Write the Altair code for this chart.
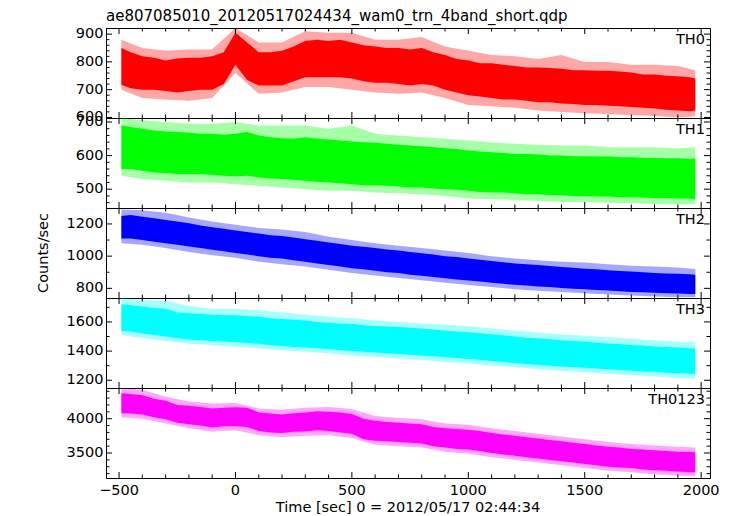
import altair as alt
import pandas as pd

TITLE = "ae807085010_20120517024434_wam0_trn_4band_short.qdp"
X_TITLE = "Time [sec] 0 = 2012/05/17 02:44:34"
Y_TITLE = "Counts/sec"
FONT = "DejaVu Sans"

# dense core of each light curve, 50 s steps
TIME = [-490, -450, -400, -350, -300, -250, -200, -150, -100, -50,
        0, 50, 100, 150, 200, 250, 300, 350, 400, 450,
        500, 550, 600, 650, 700, 750, 800, 850, 900, 950,
        1000, 1050, 1100, 1150, 1200, 1250, 1300, 1350, 1400, 1450,
        1500, 1550, 1600, 1650, 1700, 1750, 1800, 1850, 1900, 1950, 1975]

TH0_HI = [850, 835, 820, 815, 805, 812, 815, 815, 820, 835,
          905, 870, 835, 835, 840, 855, 875, 880, 875, 880,
          870, 860, 855, 850, 850, 845, 850, 835, 825, 810,
          805, 795, 795, 790, 785, 780, 780, 778, 775, 770,
          770, 768, 768, 765, 762, 755, 755, 750, 748, 745, 740]
TH0_LO = [718, 705, 700, 700, 695, 690, 695, 700, 700, 720,
          790, 735, 715, 715, 715, 730, 745, 745, 745, 745,
          740, 730, 725, 725, 720, 715, 720, 715, 700, 690,
          680, 675, 670, 665, 665, 660, 655, 655, 650, 648,
          645, 645, 642, 640, 638, 635, 632, 628, 625, 622, 625]

TH1_HI = [690, 685, 680, 675, 672, 670, 668, 665, 665, 662,
          665, 670, 660, 655, 652, 650, 655, 650, 648, 645,
          642, 640, 638, 635, 632, 630, 628, 625, 622, 620,
          615, 612, 610, 608, 605, 605, 603, 600, 600, 598,
          598, 597, 597, 595, 595, 594, 593, 592, 592, 590, 592]
TH1_LO = [560, 560, 555, 550, 548, 545, 545, 545, 542, 540,
          538, 540, 535, 532, 530, 528, 525, 522, 520, 518,
          515, 512, 512, 510, 508, 505, 505, 502, 500, 498,
          495, 492, 490, 490, 488, 485, 485, 483, 482, 480,
          480, 478, 478, 476, 476, 475, 474, 474, 472, 472, 470]

TH2_HI = [1250, 1255, 1245, 1235, 1225, 1215, 1205, 1190, 1180, 1170,
          1160, 1150, 1140, 1130, 1125, 1115, 1105, 1095, 1085, 1075,
          1065, 1058, 1050, 1042, 1035, 1025, 1018, 1010, 1000, 995,
          985, 978, 970, 962, 955, 950, 945, 938, 932, 928,
          922, 918, 912, 908, 904, 900, 896, 892, 890, 888, 885]
TH2_LO = [1110, 1110, 1100, 1090, 1080, 1070, 1060, 1050, 1040, 1030,
          1020, 1010, 1000, 990, 985, 975, 965, 955, 945, 935,
          925, 918, 910, 900, 895, 885, 878, 870, 862, 855,
          848, 842, 835, 828, 822, 818, 812, 808, 802, 798,
          795, 790, 786, 782, 778, 775, 772, 770, 768, 765, 765]

TH3_HI = [1720, 1715, 1705, 1695, 1690, 1665, 1660, 1655, 1650, 1645,
          1645, 1640, 1635, 1625, 1620, 1615, 1610, 1600, 1595, 1590,
          1585, 1578, 1572, 1568, 1565, 1560, 1555, 1548, 1540, 1535,
          1530, 1522, 1515, 1508, 1500, 1492, 1488, 1482, 1475, 1470,
          1465, 1458, 1452, 1448, 1442, 1438, 1432, 1428, 1425, 1420, 1418]
TH3_LO = [1540, 1535, 1520, 1510, 1500, 1490, 1480, 1475, 1470, 1465,
          1460, 1455, 1450, 1440, 1435, 1428, 1425, 1420, 1415, 1405,
          1400, 1395, 1390, 1385, 1380, 1375, 1370, 1365, 1358, 1352,
          1345, 1340, 1332, 1325, 1318, 1312, 1305, 1300, 1295, 1290,
          1285, 1280, 1275, 1270, 1265, 1260, 1258, 1252, 1250, 1245, 1245]

TH0123_HI = [4370, 4360, 4340, 4290, 4260, 4200, 4190, 4170, 4150, 4160,
             4165, 4160, 4090, 4075, 4060, 4080, 4090, 4110, 4100, 4090,
             4070, 4000, 3970, 3950, 3940, 3930, 3920, 3880, 3860, 3850,
             3840, 3820, 3790, 3770, 3750, 3730, 3710, 3690, 3670, 3650,
             3630, 3610, 3590, 3580, 3560, 3550, 3540, 3530, 3520, 3515, 3510]
TH0123_LO = [4080, 4075, 4060, 4020, 3990, 3940, 3920, 3900, 3870, 3890,
             3890, 3880, 3820, 3800, 3790, 3810, 3815, 3830, 3820, 3800,
             3780, 3700, 3680, 3670, 3660, 3650, 3640, 3600, 3580, 3560,
             3550, 3530, 3500, 3480, 3460, 3440, 3420, 3400, 3380, 3360,
             3340, 3320, 3300, 3290, 3280, 3260, 3250, 3240, 3230, 3220, 3215]

# reach of the sparse spikes, 100 s steps
T_EXT = [-490, -400, -300, -200, -100, 0, 100, 200, 300, 400, 500, 600, 700,
         800, 900, 1000, 1100, 1200, 1300, 1400, 1500, 1600, 1700, 1800, 1900, 1975]

TH0_EHI = [880, 850, 840, 845, 845, 922, 870, 870, 910, 905, 905, 880, 880,
           890, 855, 840, 825, 820, 810, 825, 800, 800, 790, 790, 785, 770]
TH0_ELO = [700, 670, 665, 660, 670, 760, 685, 690, 710, 710, 700, 690, 685,
           690, 670, 645, 640, 635, 625, 620, 615, 612, 608, 605, 600, 603]
TH1_EHI = [712, 705, 700, 695, 695, 700, 690, 690, 690, 680, 690, 665, 660,
           655, 650, 645, 640, 635, 632, 630, 630, 625, 625, 625, 622, 625]
TH1_ELO = [540, 530, 525, 520, 520, 515, 510, 505, 500, 495, 495, 490, 488,
           485, 480, 472, 470, 468, 465, 462, 462, 460, 458, 456, 455, 455]
TH2_EHI = [1290, 1285, 1270, 1240, 1215, 1195, 1175, 1165, 1150, 1120, 1100, 1080, 1065,
           1050, 1035, 1020, 1000, 985, 975, 965, 960, 950, 940, 935, 930, 920]
TH2_ELO = [1080, 1070, 1050, 1025, 1005, 990, 965, 950, 935, 915, 895, 880, 865,
           850, 835, 820, 808, 795, 785, 778, 770, 762, 755, 750, 745, 745]
TH3_EHI = [1764, 1750, 1745, 1710, 1690, 1690, 1680, 1665, 1650, 1635, 1625, 1610, 1600,
           1590, 1580, 1570, 1555, 1540, 1525, 1515, 1505, 1495, 1485, 1475, 1465, 1460]
TH3_ELO = [1510, 1490, 1470, 1450, 1440, 1430, 1420, 1405, 1395, 1385, 1370, 1360, 1350,
           1340, 1325, 1315, 1300, 1290, 1275, 1265, 1255, 1245, 1235, 1225, 1215, 1210]
TH0123_EHI = [4447, 4420, 4320, 4250, 4220, 4230, 4150, 4130, 4160, 4170, 4140, 4040, 4010,
              3990, 3930, 3910, 3860, 3820, 3780, 3740, 3700, 3660, 3630, 3610, 3590, 3580]
TH0123_ELO = [4020, 4000, 3930, 3860, 3810, 3830, 3760, 3730, 3750, 3760, 3720, 3620, 3600,
              3580, 3520, 3490, 3440, 3400, 3360, 3320, 3280, 3240, 3220, 3190, 3170, 3160]

X_DOMAIN = [-556, 2038]
X_MAJOR = [-500, 0, 500, 1000, 1500, 2000]
X_MINOR = [-400, -300, -200, -100, 100, 200, 300, 400, 600, 700, 800, 900,
           1100, 1200, 1300, 1400, 1600, 1700, 1800, 1900]

PANELS = [
    dict(name="TH0", color="#ff0000", hi=TH0_HI, lo=TH0_LO, ehi=TH0_EHI, elo=TH0_ELO,
         domain=[598, 922], major=[600, 700, 800, 900],
         minor=[620, 640, 660, 680, 720, 740, 760, 780, 820, 840, 860, 880, 920]),
    dict(name="TH1", color="#00ff00", hi=TH1_HI, lo=TH1_LO, ehi=TH1_EHI, elo=TH1_ELO,
         domain=[444, 712], major=[500, 600, 700],
         minor=[460, 480, 520, 540, 560, 580, 620, 640, 660, 680]),
    dict(name="TH2", color="#0000ff", hi=TH2_HI, lo=TH2_LO, ehi=TH2_EHI, elo=TH2_ELO,
         domain=[740, 1299], major=[800, 1000, 1200],
         minor=[900, 1100]),
    dict(name="TH3", color="#00ffff", hi=TH3_HI, lo=TH3_LO, ehi=TH3_EHI, elo=TH3_ELO,
         domain=[1147, 1764], major=[1200, 1400, 1600],
         minor=[1300, 1500, 1700]),
    dict(name="TH0123", color="#ff00ff", hi=TH0123_HI, lo=TH0123_LO, ehi=TH0123_EHI,
         elo=TH0123_ELO, domain=[3136, 4447], major=[3500, 4000],
         minor=[3200, 3300, 3400, 3600, 3700, 3800, 3900, 4100, 4200, 4300, 4400]),
]

W = 604
H = 90
MAJ = 6
MIN = 3.5
FS = 14.5


def txt(**kw):
    base = dict(font=FONT, fontSize=FS, color="black")
    base.update(kw)
    return base


def panel(i, p):
    xs = alt.Scale(domain=X_DOMAIN, nice=False, zero=False)
    ys = alt.Scale(domain=p["domain"], nice=False, zero=False)
    is_bottom = i == len(PANELS) - 1
    dfe = pd.DataFrame({"t": T_EXT, "hi": p["ehi"], "lo": p["elo"]})
    fringe = alt.Chart(dfe).mark_area(color=p["color"], opacity=0.35, clip=True).encode(
        x=alt.X("t:Q", scale=xs, axis=None),
        y=alt.Y("hi:Q", scale=ys, axis=None),
        y2="lo:Q",
    )
    df = pd.DataFrame({"t": TIME, "hi": p["hi"], "lo": p["lo"]})
    core = alt.Chart(df).mark_area(color=p["color"], opacity=1, clip=True).encode(
        x=alt.X("t:Q", scale=xs, axis=None),
        y=alt.Y("hi:Q", scale=ys, axis=None),
        y2="lo:Q",
    )
    layers = [fringe, core]
    # inward ticks on all four sides
    for vals, ln in ((p["major"], MAJ), (p["minor"], MIN)):
        d = pd.DataFrame({"v": vals})
        layers.append(alt.Chart(d).mark_rule(color="black", strokeWidth=1).encode(
            x=alt.value(0), x2=alt.value(ln), y=alt.Y("v:Q", scale=ys, axis=None)))
        layers.append(alt.Chart(d).mark_rule(color="black", strokeWidth=1).encode(
            x=alt.value(W), x2=alt.value(W - ln), y=alt.Y("v:Q", scale=ys, axis=None)))
    for vals, ln in ((X_MAJOR, MAJ), (X_MINOR, MIN)):
        d = pd.DataFrame({"t": vals})
        layers.append(alt.Chart(d).mark_rule(color="black", strokeWidth=1).encode(
            y=alt.value(0), y2=alt.value(ln), x=alt.X("t:Q", scale=xs, axis=None)))
        layers.append(alt.Chart(d).mark_rule(color="black", strokeWidth=1).encode(
            y=alt.value(H), y2=alt.value(H - ln), x=alt.X("t:Q", scale=xs, axis=None)))
    # y tick labels
    layers.append(alt.Chart(pd.DataFrame({"v": p["major"]})).mark_text(
        **txt(align="right", baseline="middle")).encode(
        x=alt.value(-2.5), y=alt.Y("v:Q", scale=ys, axis=None),
        text=alt.Text("v:Q", format="d")))
    # panel label
    layers.append(alt.Chart(pd.DataFrame({"label": [p["name"]]})).mark_text(
        **txt(align="right", baseline="top")).encode(
        x=alt.value(W - 5), y=alt.value(5), text="label:N"))
    if i == 2:
        layers.append(alt.Chart(pd.DataFrame({"label": [Y_TITLE]})).mark_text(
            **txt(align="center", baseline="middle", angle=270)).encode(
            x=alt.value(-62), y=alt.value(H / 2), text="label:N"))
    if is_bottom:
        layers.append(alt.Chart(pd.DataFrame({"t": X_MAJOR})).mark_text(
            **txt(align="center", baseline="top")).encode(
            x=alt.X("t:Q", scale=xs, axis=None), y=alt.value(H + 6),
            text=alt.Text("t:Q", format="d")))
        layers.append(alt.Chart(pd.DataFrame({"label": [X_TITLE]})).mark_text(
            **txt(align="center", baseline="top")).encode(
            x=alt.value(W / 2), y=alt.value(H + 23), text="label:N"))
    ch = alt.layer(*layers)
    if i == 0:
        ch = ch.properties(width=W, height=H, title=alt.TitleParams(
            text=TITLE, anchor="start", frame="group", fontSize=15, font=FONT,
            fontWeight="normal", color="black", offset=2))
    else:
        ch = ch.properties(width=W, height=H)
    return ch


chart = alt.vconcat(*[panel(i, p) for i, p in enumerate(PANELS)], spacing=0, bounds="flush")
chart = chart.resolve_scale(x="independent", y="independent").properties(
    padding={"left": 27, "top": 0, "right": 2, "bottom": 0}
).configure_view(stroke="black", strokeWidth=1)

chart.save("out.html", embed_options={"renderer": "svg", "actions": False})
